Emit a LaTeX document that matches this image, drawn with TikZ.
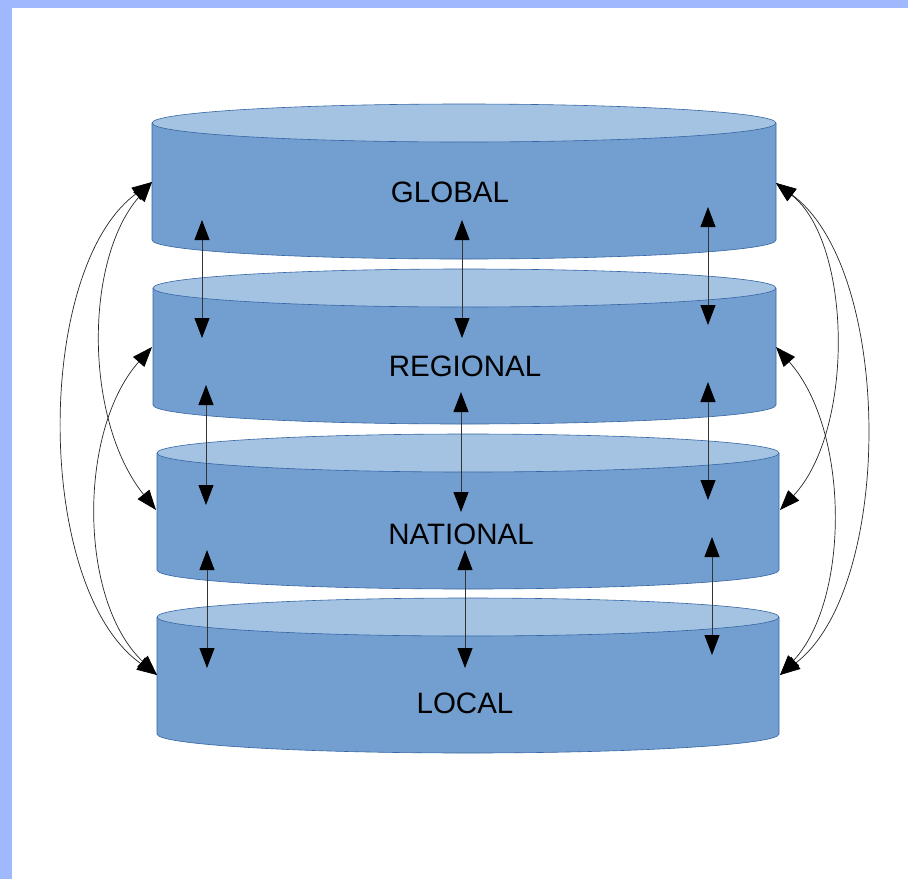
\documentclass[tikz,border=0pt]{standalone}
\usepackage{fontspec}
\setmainfont{Liberation Sans}
\usetikzlibrary{arrows.meta}
\definecolor{frameblue}{HTML}{A0B8FD}
\definecolor{bodyblue}{HTML}{729FCF}
\definecolor{topblue}{HTML}{A4C2E2}
\definecolor{edgeblue}{HTML}{3465A4}
\newcommand\mycyl[6]{% name, L, R, c, cx, rx
  \fill[bodyblue] (#2,#4) -- (#2,#4+117) arc[start angle=180,end angle=360,x radius=#6pt,y radius=19pt] -- (#3,#4) -- cycle;
  \draw[cyledge] (#2,#4) -- (#2,#4+117) arc[start angle=180,end angle=360,x radius=#6pt,y radius=19pt] -- (#3,#4);
  \draw[cyledge,fill=topblue] (#5,#4) ellipse[x radius=#6pt,y radius=19pt];
}
\begin{document}
\begin{tikzpicture}[x=1pt,y=-1pt,
  cyledge/.style={draw=edgeblue,line width=0.6pt},
  conn/.style={draw=black!80,line width=0.9pt,{Triangle[length=20pt,width=15pt,color=black]}-{Triangle[length=20pt,width=15pt,color=black]}},
  curv/.style={draw=black!85,line width=0.7pt,{Triangle[length=20pt,width=15pt,color=black]}-{Triangle[length=20pt,width=15pt,color=black]}},
  lbl/.style={font=\fontsize{29.5}{34}\selectfont,anchor=base,inner sep=0pt,text=black}]
\fill[frameblue] (0,0) rectangle (908,879);
\fill[white] (12,8) rectangle (908,879);
\useasboundingbox (0,0) rectangle (908,879);

\mycyl{global}{152}{776}{123}{464}{312}
\mycyl{regional}{153}{776}{288}{464.5}{311.5}
\mycyl{national}{157}{779}{453}{468}{311}
\mycyl{local}{157}{779}{617}{468}{311}

\node[lbl] (tglobal) at (450,202) {GLOBAL};
\node[lbl] (tregional) at (465,376) {REGIONAL};
\node[lbl] (tnational) at (461,544) {NATIONAL};
\node[lbl] (tlocal) at (465,713) {LOCAL};

% side attachment points
\coordinate (gL) at (152,182);
\coordinate (rL) at (152,347);
\coordinate (nL) at (156,510);
\coordinate (lL) at (157,675);
\coordinate (gR) at (776,183);
\coordinate (rR) at (776,347);
\coordinate (nR) at (780,510);
\coordinate (lR) at (780,675);

% vertical connector end points
\coordinate (a1t) at (202,220); \coordinate (a1b) at (202,338);
\coordinate (a2t) at (206,385); \coordinate (a2b) at (206,505);
\coordinate (a3t) at (207,550); \coordinate (a3b) at (207,668);
\coordinate (b1t) at (462,220); \coordinate (b1b) at (462,338);
\coordinate (b2t) at (461,392); \coordinate (b2b) at (461,512);
\coordinate (b3t) at (465,550); \coordinate (b3b) at (465,668);
\coordinate (c1t) at (708,207); \coordinate (c1b) at (708,325);
\coordinate (c2t) at (708,382); \coordinate (c2b) at (708,500);
\coordinate (c3t) at (712,537); \coordinate (c3b) at (712,655);

\foreach \p in {a1,a2,a3,b1,b2,b3,c1,c2,c3}
  \draw[conn] (\p t) -- (\p b);

% curved connectors, left
\draw[curv] (gL) .. controls (34,269) and (34,588) .. (lL);
\draw[curv] (gL) .. controls (84,260) and (84,420) .. (nL);
\draw[curv] (rL) .. controls (78,430) and (78,600) .. (lL);
% curved connectors, right
\draw[curv] (gR) .. controls (894,270) and (894,588) .. (lR);
\draw[curv] (gR) .. controls (852,242) and (855,430) .. (nR);
\draw[curv] (rR) .. controls (850,430) and (850,600) .. (lR);
\end{tikzpicture}
\end{document}
